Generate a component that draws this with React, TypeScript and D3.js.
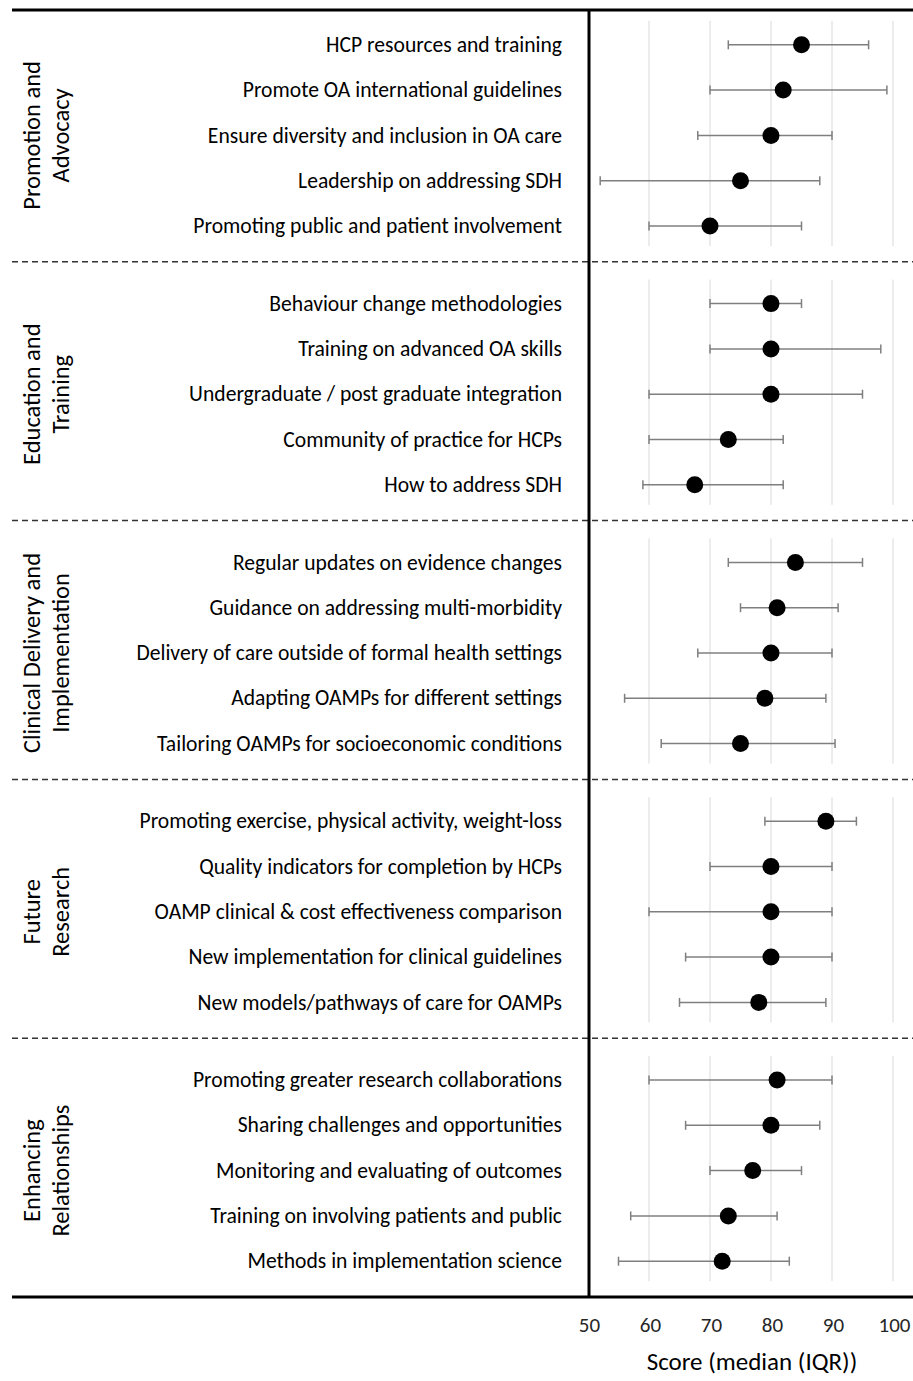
import React, { useEffect, useRef } from 'react'
import * as d3 from 'd3'

// groups and item labels (top to bottom)
const groupNames = [
  ['Promotion and', 'Advocacy'],
  ['Education and', 'Training'],
  ['Clinical Delivery and', 'Implementation'],
  ['Future', 'Research'],
  ['Enhancing', 'Relationships'],
]

const itemLabels = [
  ['HCP resources and training', 'Promote OA international guidelines', 'Ensure diversity and inclusion in OA care', 'Leadership on addressing SDH', 'Promoting public and patient involvement'],
  ['Behaviour change methodologies', 'Training on advanced OA skills', 'Undergraduate / post graduate integration', 'Community of practice for HCPs', 'How to address SDH'],
  ['Regular updates on evidence changes', 'Guidance on addressing multi-morbidity', 'Delivery of care outside of formal health settings', 'Adapting OAMPs for different settings', 'Tailoring OAMPs for socioeconomic conditions'],
  ['Promoting exercise, physical activity, weight-loss', 'Quality indicators for completion by HCPs', 'OAMP clinical & cost effectiveness comparison', 'New implementation for clinical guidelines', 'New models/pathways of care for OAMPs'],
  ['Promoting greater research collaborations', 'Sharing challenges and opportunities', 'Monitoring and evaluating of outcomes', 'Training on involving patients and public ', 'Methods in implementation science'],
]

const medians = [
  [85, 82, 80, 75, 70],
  [80, 80, 80, 73, 67.5],
  [84, 81, 80, 79, 75],
  [89, 80, 80, 80, 78],
  [81, 80, 77, 73, 72],
]
const lowerQ = [
  [73, 70, 68, 52, 60],
  [70, 70, 60, 60, 59],
  [73, 75, 68, 56, 62],
  [79, 70, 60, 66, 65],
  [60, 66, 70, 57, 55],
]
const upperQ = [
  [96, 99, 90, 88, 85],
  [85, 98, 95, 82, 82],
  [95, 91, 90, 89, 90.5],
  [94, 90, 90, 90, 89],
  [90, 88, 85, 81, 83],
]

const xTicks = [50, 60, 70, 80, 90, 100]
const gridTicks = [60, 70, 80, 90, 100]

const W = 913
const H = 1381
const FONT = 'Carlito, Calibri, "Open Sans", sans-serif'

function drawChart(el: SVGSVGElement) {
  const svg = d3.select(el)
  svg.selectAll('*').remove()

  const left = 12, right = 913, top = 10, bottom = 1297
  const x = d3.scaleLinear().domain([50, 100]).range([588, 893])
  const groupScale = d3.scaleBand<number>().domain(d3.range(groupNames.length)).range([6, 1300])
  const rowScale = d3.scalePoint<number>().domain(d3.range(5)).range([0, groupScale.bandwidth()]).padding(0.857)

  const g = svg.append('g')

  groupNames.forEach((names, gi) => {
    const g0 = groupScale(gi)!
    const g1 = g0 + groupScale.bandwidth()
    const grp = g.append('g')

    // light vertical grid
    grp.selectAll('line.grid').data(gridTicks).join('line')
      .attr('class', 'grid')
      .attr('x1', d => x(d)).attr('x2', d => x(d))
      .attr('y1', g0 + rowScale(0)! - 24).attr('y2', g0 + rowScale(4)! + 20)
      .attr('stroke', '#d9d9d9').attr('stroke-width', 1)

    // separator
    if (gi > 0) {
      grp.append('line')
        .attr('x1', left).attr('x2', right).attr('y1', g0 - 3).attr('y2', g0 - 3)
        .attr('stroke', '#333').attr('stroke-width', 1.5).attr('stroke-dasharray', '6,4')
    }

    // group title, rotated
    const cy = (g0 + g1) / 2
    const title = grp.append('text')
      .attr('transform', `translate(40,${cy}) rotate(-90)`)
      .attr('text-anchor', 'middle')
      .style('font-family', FONT).style('font-size', '24.5px').attr('fill', '#000')
    names.forEach((n, i) => {
      title.append('tspan').attr('x', 0).attr('dy', i === 0 ? 0 : 29).text(n)
    })

    const rows = d3.range(5).map(ri => ({
      label: itemLabels[gi][ri],
      med: medians[gi][ri],
      lo: lowerQ[gi][ri],
      hi: upperQ[gi][ri],
      y: g0 + rowScale(ri)!,
    }))

    grp.selectAll('text.item').data(rows).join('text')
      .attr('class', 'item')
      .attr('x', 562).attr('y', d => d.y)
      .attr('dy', '0.33em')
      .attr('text-anchor', 'end')
      .style('font-family', FONT).style('font-size', '21.6px').attr('fill', '#000')
      .text(d => d.label)

    grp.selectAll('line.err').data(rows).join('line')
      .attr('class', 'err')
      .attr('x1', d => x(d.lo)).attr('x2', d => x(d.hi))
      .attr('y1', d => d.y).attr('y2', d => d.y)
      .attr('stroke', '#7f7f7f').attr('stroke-width', 1.5)

    const caps = rows.flatMap(d => [{ v: d.lo, y: d.y }, { v: d.hi, y: d.y }])
    grp.selectAll('line.cap').data(caps).join('line')
      .attr('class', 'cap')
      .attr('x1', d => x(d.v)).attr('x2', d => x(d.v))
      .attr('y1', d => d.y - 4.5).attr('y2', d => d.y + 4.5)
      .attr('stroke', '#7f7f7f').attr('stroke-width', 1.5)

    grp.selectAll('circle.med').data(rows).join('circle')
      .attr('class', 'med')
      .attr('cx', d => x(d.med)).attr('cy', d => d.y)
      .attr('r', 8.5).attr('fill', '#000')
  })

  // frame lines
  g.append('line').attr('x1', left).attr('x2', right).attr('y1', top).attr('y2', top)
    .attr('stroke', '#000').attr('stroke-width', 3)
  g.append('line').attr('x1', left).attr('x2', right).attr('y1', bottom).attr('y2', bottom)
    .attr('stroke', '#000').attr('stroke-width', 3)
  g.append('line').attr('x1', x(50) + 1).attr('x2', x(50) + 1).attr('y1', top).attr('y2', bottom)
    .attr('stroke', '#000').attr('stroke-width', 3)

  // x axis labels
  const axis = d3.axisBottom(x).tickValues(xTicks).tickSize(0).tickPadding(0)
  const ax = g.append('g').attr('transform', `translate(1,${bottom + 20})`).call(axis)
  ax.select('.domain').remove()
  ax.selectAll('text')
    .style('font-family', FONT).style('font-size', '21px').attr('fill', '#262626')

  g.append('text')
    .attr('x', 752).attr('y', 1370)
    .attr('text-anchor', 'middle')
    .style('font-family', FONT).style('font-size', '25px').attr('fill', '#000')
    .text('Score (median (IQR))')
}

const App = () => {
  const ref = useRef<SVGSVGElement>(null)
  useEffect(() => {
    if (ref.current) drawChart(ref.current)
  })
  return (
    <svg ref={ref} width={W} height={H}
      style={{ position: 'absolute', left: 0, top: 0, background: '#fff' }} />
  )
}

export default App
